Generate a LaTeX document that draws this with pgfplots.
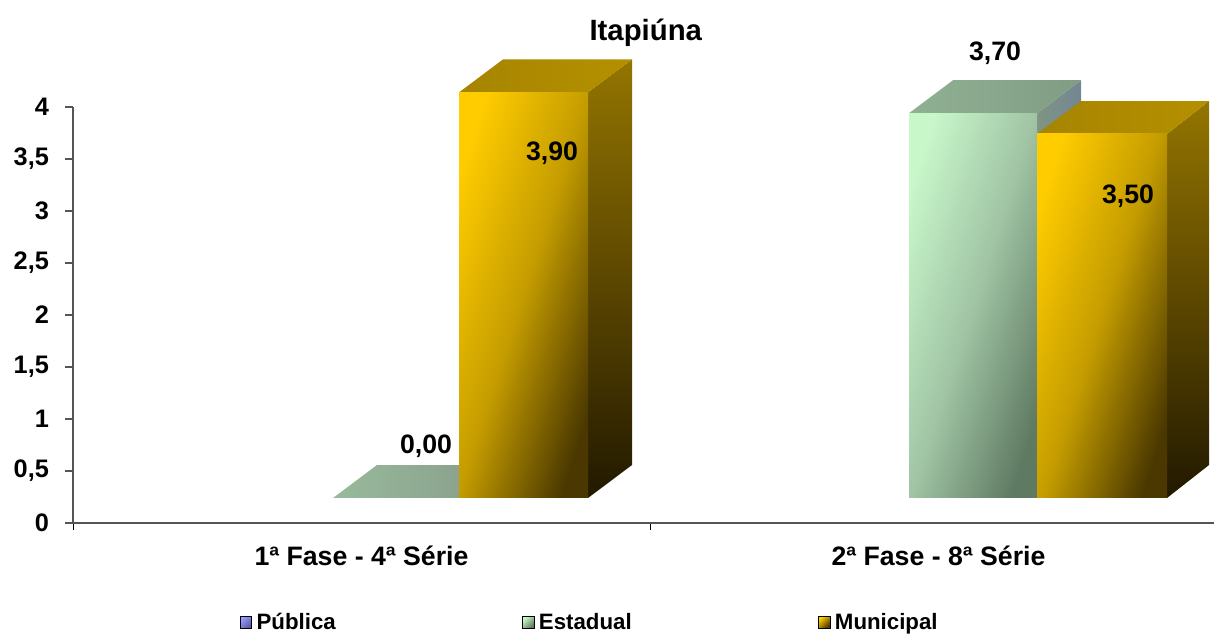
\documentclass[border=0pt]{standalone}
\usepackage{fontspec}
\setmainfont{Liberation Sans}
\usepackage{pgfplots}
\pgfplotsset{compat=1.18}
\definecolor{axisgray}{HTML}{555555}
\definecolor{goldA}{HTML}{FFCC00}
\definecolor{goldB}{HTML}{C49C00}
\definecolor{goldC}{HTML}{4A3800}
\definecolor{greenA}{HTML}{C8F7CA}
\definecolor{greenB}{HTML}{A0C4A4}
\definecolor{greenC}{HTML}{5F7A62}
\pgfplotsset{
  face/.style={draw=none,yshift=18.75pt,forget plot},
  goldfront/.style={face,top color=goldA,bottom color=goldC,middle color=goldB,shading angle=72},
  goldside/.style={face,top color=goldB!75!black,bottom color=black!55!goldC,middle color=goldC!85!goldB},
  goldtop/.style={face,left color=goldB!85!black,right color=goldB!92!black},
  greenfront/.style={face,top color=greenA,bottom color=greenC,middle color=greenB,shading angle=72},
  greenside/.style={face,left color=greenC!80!white,right color=greenC!85!blue!80!white},
  greentop/.style={face,left color=greenB!90!black,right color=greenB!80!black},
  greenfloor/.style={face,left color=greenB!95!black,right color=greenC!75!white},
}
\begin{document}
\begin{tikzpicture}
\path[use as bounding box] (0,0) rectangle (910.5pt,475.5pt);
\begin{axis}[
  at={(54.75pt,83.25pt)}, anchor=south west,
  scale only axis, width=855.75pt, height=312pt,
  xmin=73, xmax=1214, ymin=0, ymax=4,
  clip=false,
  axis lines*=left,
  axis line style={-,draw=axisgray,line width=1.4pt},
  ytick={0,0.5,...,4},
  yticklabel style={font=\fontsize{19}{19}\selectfont\bfseries,/pgf/number format/use comma,/pgf/number format/assume math mode=true,xshift=-8.5pt},
  tick align=outside,
  y tick style={draw=axisgray,line width=0.8pt},
  major tick length=6pt,
  xtick={361.5,938.5},
  xticklabels={1ª Fase - 4ª Série,2ª Fase - 8ª Série},
  xticklabel style={font=\fontsize{20}{20}\selectfont\bfseries,yshift=-8pt},
  major x tick style={draw=none},
  minor xtick={73,650},
  minor x tick style={draw=black,line width=0.6pt},
  minor tick length=5pt,
  title={Itapiúna},
  title style={font=\fontsize{22}{22}\selectfont\bfseries,at={(0.502,1.159)},anchor=center},
  legend columns=3,
  legend cell align=left,
  legend style={draw=none,fill=none,at={(0.1464,-0.2386)},anchor=west,
    font=\fontsize{16.7}{16.7}\selectfont\bfseries,inner sep=0pt,outer sep=0pt,
    /tikz/every even column/.append style={column sep=138pt}},
]
% Estadual, 1a fase: value 0,00 (floor only)
\addplot[greenfloor] coordinates {(333,0) (459,0) (503,0.317) (377,0.317)} -- cycle;
% Municipal, 1a fase: 3,90
\addplot[goldside] coordinates {(588,0) (632,0.317) (632,4.217) (588,3.9)} -- cycle;
\addplot[goldtop] coordinates {(459,3.9) (588,3.9) (632,4.217) (503,4.217)} -- cycle;
\addplot[goldfront] coordinates {(459,0) (588,0) (588,3.9) (459,3.9)} -- cycle;
% Estadual, 2a fase: 3,70
\addplot[greenside] coordinates {(1037,0) (1081,0.317) (1081,4.017) (1037,3.7)} -- cycle;
\addplot[greentop] coordinates {(909,3.7) (1037,3.7) (1081,4.017) (953,4.017)} -- cycle;
\addplot[greenfront] coordinates {(909,0) (1037,0) (1037,3.7) (909,3.7)} -- cycle;
% Municipal, 2a fase: 3,50
\addplot[goldside] coordinates {(1167,0) (1209,0.317) (1209,3.817) (1167,3.5)} -- cycle;
\addplot[goldtop] coordinates {(1037,3.5) (1167,3.5) (1209,3.817) (1081,3.817)} -- cycle;
\addplot[goldfront] coordinates {(1037,0) (1167,0) (1167,3.5) (1037,3.5)} -- cycle;
% data labels
\node[font=\fontsize{20}{20}\selectfont\bfseries] at (axis cs:426,0.74) {0,00};
\node[font=\fontsize{20}{20}\selectfont\bfseries] at (axis cs:552,3.557) {3,90};
\node[font=\fontsize{20}{20}\selectfont\bfseries] at (axis cs:995,4.518) {3,70};
\node[font=\fontsize{20}{20}\selectfont\bfseries] at (axis cs:1128,3.143) {3,50};
% legend
\addlegendimage{legend image code/.code={\shade[top color=blue!40!white,bottom color=blue!30!gray,shading angle=45] (0pt,-4.2pt) rectangle (8.5pt,4.2pt);\path (10pt,0pt);}}
\addlegendentry{Pública}
\addlegendimage{legend image code/.code={\shade[top color=greenA,bottom color=greenC,shading angle=45] (0pt,-4.2pt) rectangle (8.5pt,4.2pt);\path (10pt,0pt);}}
\addlegendentry{Estadual}
\addlegendimage{legend image code/.code={\shade[top color=goldA,bottom color=goldC,shading angle=45] (0pt,-4.2pt) rectangle (8.5pt,4.2pt);\path (10pt,0pt);}}
\addlegendentry{Municipal}
\end{axis}
\end{tikzpicture}
\end{document}
